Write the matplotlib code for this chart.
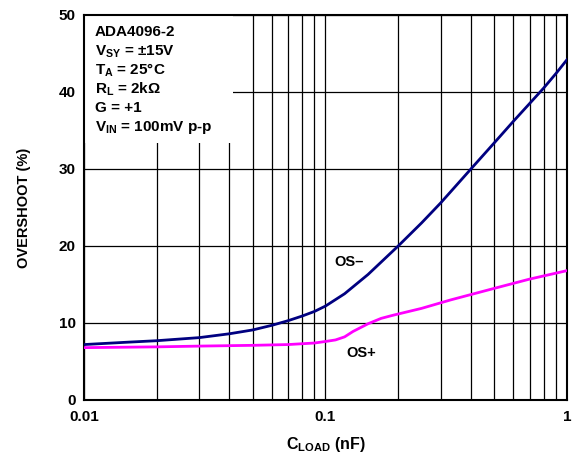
import matplotlib
matplotlib.use("Agg")
import matplotlib.pyplot as plt
from matplotlib.patches import Rectangle
from matplotlib.ticker import FixedLocator, NullFormatter

# ---------------------------------------------------------------------------
# Data
# ---------------------------------------------------------------------------
c_neg = [0.01, 0.015, 0.02, 0.03, 0.04, 0.05, 0.06, 0.07, 0.08, 0.09, 0.1,
         0.12, 0.15, 0.2, 0.25, 0.3, 0.4, 0.5, 0.6, 0.7, 0.8, 0.9, 1.0]
os_neg = [7.2, 7.5, 7.7, 8.1, 8.6, 9.1, 9.7, 10.3, 10.9, 11.5, 12.2,
          13.8, 16.3, 20.0, 23.0, 25.6, 30.0, 33.4, 36.2, 38.5, 40.5, 42.4, 44.2]

c_pos = [0.01, 0.02, 0.03, 0.05, 0.07, 0.09, 0.1, 0.11, 0.12, 0.13, 0.15,
         0.17, 0.19, 0.25, 0.33, 0.5, 0.7, 1.0]
os_pos = [6.8, 6.9, 7.0, 7.1, 7.2, 7.4, 7.6, 7.8, 8.2, 8.9, 9.9,
          10.6, 11.0, 11.9, 13.0, 14.5, 15.7, 16.8]

x_ticks = [0.01, 0.1, 1]
x_ticklabels = ["0.01", "0.1", "1"]
y_ticks = [0, 10, 20, 30, 40, 50]

conditions = [
    "ADA4096-2",
    r"V$_{\rm SY}$ = ±15V",
    r"T$_{\rm A}$ = 25°C",
    r"R$_{\rm L}$ = 2kΩ",
    "G = +1",
    r"V$_{\rm IN}$ = 100mV p-p",
]

# ---------------------------------------------------------------------------
# Style
# ---------------------------------------------------------------------------
plt.rcParams["font.family"] = ["Liberation Sans", "DejaVu Sans"]
plt.rcParams["font.weight"] = "bold"
plt.rcParams["mathtext.fontset"] = "custom"
plt.rcParams["mathtext.rm"] = "Liberation Sans:bold"
plt.rcParams["mathtext.it"] = "Liberation Sans:bold"
plt.rcParams["mathtext.bf"] = "Liberation Sans:bold"

fig = plt.figure(figsize=(5.84, 4.53), dpi=100)
ax = fig.add_axes([0.1438, 0.117, 0.8271, 0.8499])

ax.plot(c_neg, os_neg, color="#000080", linewidth=2.0, zorder=4)
ax.plot(c_pos, os_pos, color="#ff00ff", linewidth=2.0, zorder=4)

ax.set_xscale("log")
ax.set_xlim(0.01, 1)
ax.set_ylim(0, 50)

ax.xaxis.set_major_locator(FixedLocator(x_ticks))
ax.set_xticklabels(x_ticklabels)
ax.xaxis.set_minor_locator(FixedLocator(
    [k * 0.01 for k in range(2, 10)] + [k * 0.1 for k in range(2, 10)]))
ax.xaxis.set_minor_formatter(NullFormatter())
ax.set_yticks(y_ticks)

ax.tick_params(which="both", length=0, labelsize=11)
ax.tick_params(axis="x", pad=7)
ax.tick_params(axis="y", pad=6)
for lab in ax.get_xticklabels() + ax.get_yticklabels():
    lab.set_fontweight("bold")

ax.grid(True, which="both", axis="x", color="black", linewidth=0.9)
ax.grid(True, which="major", axis="y", color="black", linewidth=0.9)
ax.set_axisbelow(True)
for s in ax.spines.values():
    s.set_linewidth(1.5)

# white area behind the test conditions
ax.add_patch(Rectangle((0, 0.6675), 0.3085, 0.3325, transform=ax.transAxes,
                       facecolor="white", edgecolor="none", zorder=2))

for i, line in enumerate(conditions):
    ax.text(0.023, 0.945 - i * 0.0494, line, transform=ax.transAxes,
            fontsize=11, fontweight="bold", va="baseline", ha="left", zorder=5)

ax.text(0.109, 17.9, "OS–", fontsize=10.5, fontweight="bold", va="center", zorder=5)
ax.text(0.1216, 6.1, "OS+", fontsize=10.5, fontweight="bold", va="center", zorder=5)

ax.set_xlabel(r"C$_{\rm LOAD}$ (nF)", fontsize=11.5, fontweight="bold", labelpad=8)
ax.set_ylabel("OVERSHOOT (%)", fontsize=10.5, fontweight="bold", labelpad=20)

fig.savefig("out.png", dpi=100)
